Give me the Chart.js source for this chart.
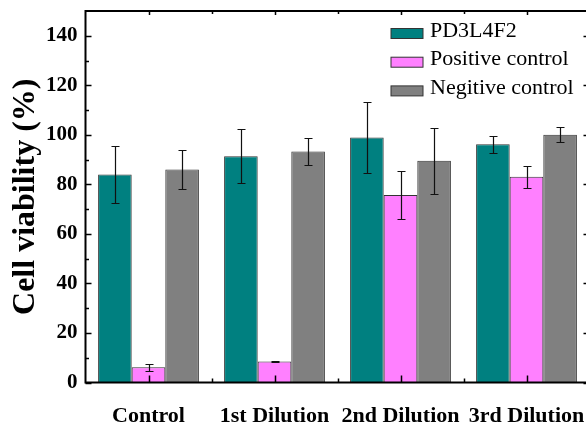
<!DOCTYPE html>
<html><head><meta charset="utf-8">
<script src="https://cdn.jsdelivr.net/npm/chart.js@4"></script>
<style>html,body{margin:0;padding:0;overflow:hidden;background:#fff;width:586px;height:426px}canvas{display:block}</style>
</head><body><canvas id="c" width="592" height="426" style="width:592px;height:426px"></canvas>
<script>
const categories = ['Control', '1st Dilution', '2nd Dilution', '3rd Dilution'];
const seriesNames = ['PD3L4F2', 'Positive control', 'Negitive control'];
const pd3l4f2 = [84.0, 91.4, 98.9, 96.2];
const pd3l4f2Err = [11.4, 11.0, 14.4, 3.5];
const positiveControl = [6.2, 8.5, 75.7, 83.1];
const positiveControlErr = [1.4, 0.3, 9.6, 4.4];
const negativeControl = [86.0, 93.3, 89.5, 100.0];
const negativeControlErr = [7.9, 5.4, 13.4, 3.0];
const yTickValues = [0, 20, 40, 60, 80, 100, 120, 140];
const yMinorTickValues = [10, 30, 50, 70, 90, 110, 130];
const yTitle = 'Cell viability (%)';

const SERIF = '"Liberation Serif", "Times New Roman", serif';

const decor = {
  id: 'decor',
  afterDatasetsDraw(chart) {
    const ctx = chart.ctx, ca = chart.chartArea, xs = chart.scales.x, ys = chart.scales.y;
    ctx.save();
    // error bars
    ctx.strokeStyle = '#111';
    ctx.lineWidth = 1.2;
    chart.data.datasets.forEach((ds, i) => {
      const meta = chart.getDatasetMeta(i);
      ds.errors.forEach((e, j) => {
        const bar = meta.data[j];
        const v = ds.data[j];
        const px = Math.round(bar.x) + 0.5;
        const yt = Math.round(ys.getPixelForValue(v + e)) + 0.5;
        const yb = Math.round(ys.getPixelForValue(v - e)) + 0.5;
        ctx.beginPath();
        ctx.moveTo(px, yt); ctx.lineTo(px, yb);
        ctx.moveTo(px - 4, yt); ctx.lineTo(px + 4, yt);
        ctx.moveTo(px - 4, yb); ctx.lineTo(px + 4, yb);
        ctx.stroke();
      });
    });
    // frame
    ctx.strokeStyle = '#000';
    ctx.lineWidth = 2;
    ctx.strokeRect(ca.left, ca.top, ca.right - ca.left, ca.bottom - ca.top);
    // y ticks (inward)
    ctx.lineWidth = 1.5;
    ctx.beginPath();
    yTickValues.forEach(v => {
      const py = Math.round(ys.getPixelForValue(v)) + 0.5;
      ctx.moveTo(ca.left, py); ctx.lineTo(ca.left + 6, py);
      ctx.moveTo(ca.right, py); ctx.lineTo(ca.right - 6, py);
    });
    yMinorTickValues.forEach(v => {
      const py = Math.round(ys.getPixelForValue(v)) + 0.5;
      ctx.moveTo(ca.left, py); ctx.lineTo(ca.left + 3.5, py);
      ctx.moveTo(ca.right, py); ctx.lineTo(ca.right - 3.5, py);
    });
    // x ticks (inward, top and bottom)
    const step = xs.getPixelForValue(1) - xs.getPixelForValue(0);
    categories.forEach((c, j) => {
      const cx = Math.round(xs.getPixelForValue(j)) + 0.5;
      ctx.moveTo(cx, ca.bottom); ctx.lineTo(cx, ca.bottom - 7);
      ctx.moveTo(cx, ca.top); ctx.lineTo(cx, ca.top + 4);
      if (j > 0) {
        const bx = Math.round(xs.getPixelForValue(j) - step / 2) + 0.5;
        ctx.moveTo(bx, ca.bottom); ctx.lineTo(bx, ca.bottom - 4);
        ctx.moveTo(bx, ca.top); ctx.lineTo(bx, ca.top + 3);
      }
    });
    ctx.stroke();
    // legend
    ctx.font = 'normal 400 22px ' + SERIF;
    ctx.textBaseline = 'alphabetic';
    ctx.textAlign = 'left';
    chart.data.datasets.forEach((ds, i) => {
      const bx = ca.right - 198.5, by = ca.top + 17.5 + i * 28.7;
      ctx.fillStyle = ds.backgroundColor;
      ctx.fillRect(bx, by, 32, 10);
      ctx.strokeStyle = '#333';
      ctx.lineWidth = 1;
      ctx.strokeRect(bx, by, 32, 10);
      ctx.fillStyle = '#000';
      ctx.fillText(ds.label, bx + 39, by + 8);
    });
    ctx.restore();
  }
};

new Chart(document.getElementById('c'), {
  type: 'bar',
  data: {
    labels: categories,
    datasets: [
      { label: seriesNames[0], data: pd3l4f2, errors: pd3l4f2Err, backgroundColor: '#008080' },
      { label: seriesNames[1], data: positiveControl, errors: positiveControlErr, backgroundColor: '#ff80ff' },
      { label: seriesNames[2], data: negativeControl, errors: negativeControlErr, backgroundColor: '#808080' }
    ]
  },
  options: {
    responsive: false,
    animation: false,
    devicePixelRatio: 1,
    layout: { padding: { top: 11, right: 2.5, left: 0, bottom: 0 } },
    datasets: { bar: { categoryPercentage: 0.8, barPercentage: 1.0, borderWidth: 1, borderColor: '#333', borderSkipped: 'start' } },
    plugins: { legend: { display: false }, tooltip: { enabled: false } },
    scales: {
      x: {
        grid: { display: false, drawTicks: false },
        border: { display: false },
        ticks: { color: '#000', font: { family: SERIF, size: 22, weight: 'bold' }, padding: 21, maxRotation: 0, autoSkip: false },
        afterFit(scale) { scale.height = 43.5; scale.paddingLeft = 0; scale.paddingRight = 0; }
      },
      y: {
        min: 0, max: 150,
        grid: { display: false, drawTicks: false },
        border: { display: false },
        afterBuildTicks(scale) { scale.ticks = yTickValues.map(v => ({ value: v })); },
        ticks: { color: '#000', font: { family: SERIF, size: 21, weight: 'bold' }, padding: 8 },
        title: { display: true, text: yTitle, color: '#000', font: { family: SERIF, size: 32, weight: 'bold' }, padding: { top: 7, bottom: 0 } },
        afterFit(scale) { scale.width = 85.5; scale.paddingTop = 0; scale.paddingBottom = 0; }
      }
    }
  },
  plugins: [decor]
});
</script>
</body></html>
